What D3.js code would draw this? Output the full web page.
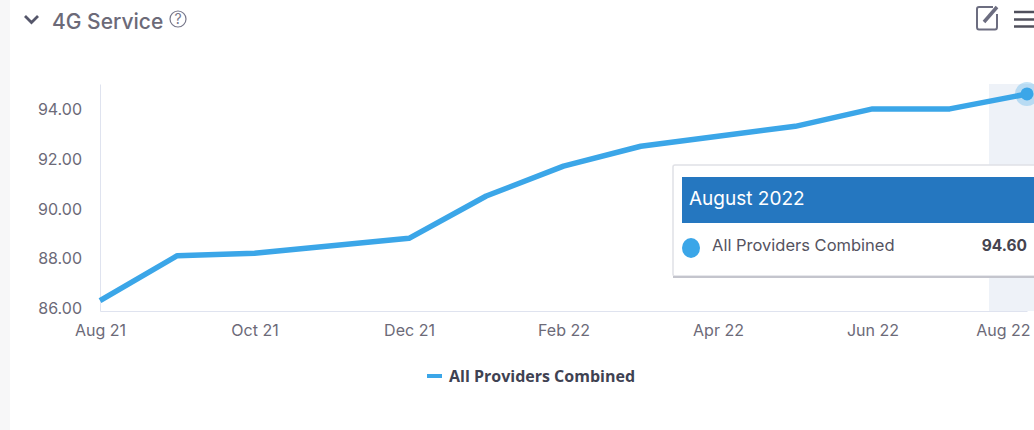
<!DOCTYPE html>
<html>
<head>
<meta charset="utf-8">
<script src="https://cdn.jsdelivr.net/npm/d3@7"></script>
<style>
html, body { margin: 0; padding: 0; background: #fff; overflow: hidden; }
svg { display: block; }
text { font-family: Inter, "Open Sans", sans-serif; }
</style>
</head>
<body>
<svg id="chart" width="1034" height="430"></svg>
<script>
var months = ['2021-08','2021-09','2021-10','2021-11','2021-12','2022-01','2022-02','2022-03','2022-04','2022-05','2022-06','2022-07','2022-08'];
var values = [86.3,88.1,88.2,88.5,88.8,90.5,91.7,92.5,92.9,93.3,94.0,94.0,94.6];
var x_ticks = ['2021-08','2021-10','2021-12','2022-02','2022-04','2022-06','2022-08'];
var y_ticks = [86,88,90,92,94];
var series_name = 'All Providers Combined';
var tooltip_title = 'August 2022';
var tooltip_value = '94.60';

var svg = d3.select('#chart');
var parse = d3.timeParse('%Y-%m');
var line_col = '#3ba6e8', axis_col = '#dfe3ef', text_col = '#6c6a78';

var plot_top = 84, plot_bottom = 311, plot_left = 100, plot_right = 1027;

// month index scale, the picture has even month spacing
var x_scale = d3.scalePoint().domain(months).range([plot_left, plot_right]);
var y_scale = d3.scaleLinear().domain([85.88, 95.00]).range([plot_bottom, plot_top]);

// page strip on the left
svg.append('rect').attr('x',0).attr('y',0).attr('width',10).attr('height',430).attr('fill','#f7f7f8');

// last month highlight
svg.append('rect').attr('x',989).attr('y',plot_top).attr('width',45).attr('height',plot_bottom-plot_top).attr('fill','#eef2f8');

// axes
var y_axis = d3.axisLeft(y_scale).tickValues(y_ticks).tickSize(0).tickPadding(18).tickFormat(d3.format('.2f'));
var y_g = svg.append('g').attr('transform','translate('+plot_left+',0)').call(y_axis);
y_g.select('.domain').attr('stroke',axis_col).attr('stroke-width',1);
y_g.selectAll('text').attr('dy','0.36em').attr('fill',text_col).style('font-size','16px');

var x_axis = d3.axisBottom(x_scale).tickValues(x_ticks).tickSize(0).tickPadding(14)
	.tickFormat(d => d3.timeFormat('%b %y')(parse(d)));
var x_g = svg.append('g').attr('transform','translate(0,'+plot_bottom+')').call(x_axis);
x_g.select('.domain').attr('stroke',axis_col).attr('stroke-width',1);
x_g.selectAll('text').attr('fill',text_col).style('font-size','16px');
// last label sits inside the page edge
x_g.selectAll('text').filter(d => d == x_ticks[x_ticks.length-1]).attr('text-anchor','end').attr('x',3);

// series line
var line = d3.line().x((d,i) => x_scale(months[i])).y(d => y_scale(d));
svg.append('path').datum(values).attr('d',line)
	.attr('fill','none').attr('stroke',line_col).attr('stroke-width',5.5).attr('stroke-linejoin','round');

// hovered point
var last = values.length-1;
svg.append('circle').attr('cx',x_scale(months[last])).attr('cy',y_scale(values[last])).attr('r',12)
	.attr('fill',line_col).attr('opacity',0.3);
svg.append('circle').attr('cx',x_scale(months[last])).attr('cy',y_scale(values[last])).attr('r',6.5)
	.attr('fill',line_col);

// legend
svg.append('line').attr('x1',427).attr('x2',442).attr('y1',376).attr('y2',376)
	.attr('stroke',line_col).attr('stroke-width',4);
svg.append('text').attr('x',449).attr('y',382).text(series_name)
	.attr('fill','#3f4252').style('font-family','"Open Sans"').style('font-size','16px').style('font-weight',700);

// tooltip
var tip = svg.append('g');
tip.append('rect').attr('x',673).attr('y',165).attr('width',375).attr('height',111).attr('rx',2)
	.attr('fill','#fff').attr('fill-opacity',0.95).attr('stroke','#e0e1e6').attr('stroke-width',1.5);
tip.append('line').attr('x1',673).attr('x2',1034).attr('y1',277).attr('y2',277)
	.attr('stroke','#c4c5cd').attr('stroke-width',2);
tip.append('rect').attr('x',682).attr('y',177).attr('width',352).attr('height',46).attr('fill','#2577c0');
tip.append('text').attr('x',689).attr('y',205).text(tooltip_title).attr('fill','#fff').style('font-size','19px');
tip.append('ellipse').attr('cx',691).attr('cy',248).attr('rx',9).attr('ry',10).attr('fill',line_col);
tip.append('text').attr('x',712).attr('y',251).text(series_name).attr('fill','#55535f').style('font-size','16.5px');
tip.append('text').attr('x',1027).attr('y',251).attr('text-anchor','end').text(tooltip_value)
	.attr('fill','#45444f').style('font-size','15.5px').style('font-weight',700);

// header
svg.append('path').attr('d','M25 16 L31.5 22.5 L38 16').attr('fill','none').attr('stroke','#55566a').attr('stroke-width',2.8);
svg.append('text').attr('x',52).attr('y',29).text('4G Service').attr('fill','#6c6a78')
	.style('font-size','21px').style('font-weight',500);
svg.append('circle').attr('cx',178).attr('cy',19).attr('r',8).attr('fill','none').attr('stroke','#77778a').attr('stroke-width',1.2);
svg.append('text').attr('x',178).attr('y',24).attr('text-anchor','middle').text('?').attr('fill','#77778a').style('font-size','14px');

// edit and menu icons
svg.append('path').attr('d','M993 7 H979 Q977 7 977 9 V27 Q977 29.5 979 29.5 H995 Q997 29.5 997 27 V14')
	.attr('fill','none').attr('stroke','#6c6d80').attr('stroke-width',2);
svg.append('path').attr('d','M984 22 L997 7').attr('fill','none').attr('stroke','#6c6d80').attr('stroke-width',3.5);
svg.selectAll('line.menu').data([12,19.5,26.5]).enter().append('line').attr('class','menu')
	.attr('x1',1014).attr('x2',1034).attr('y1',d => d).attr('y2',d => d)
	.attr('stroke','#50505c').attr('stroke-width',2.5);
</script>
</body>
</html>
